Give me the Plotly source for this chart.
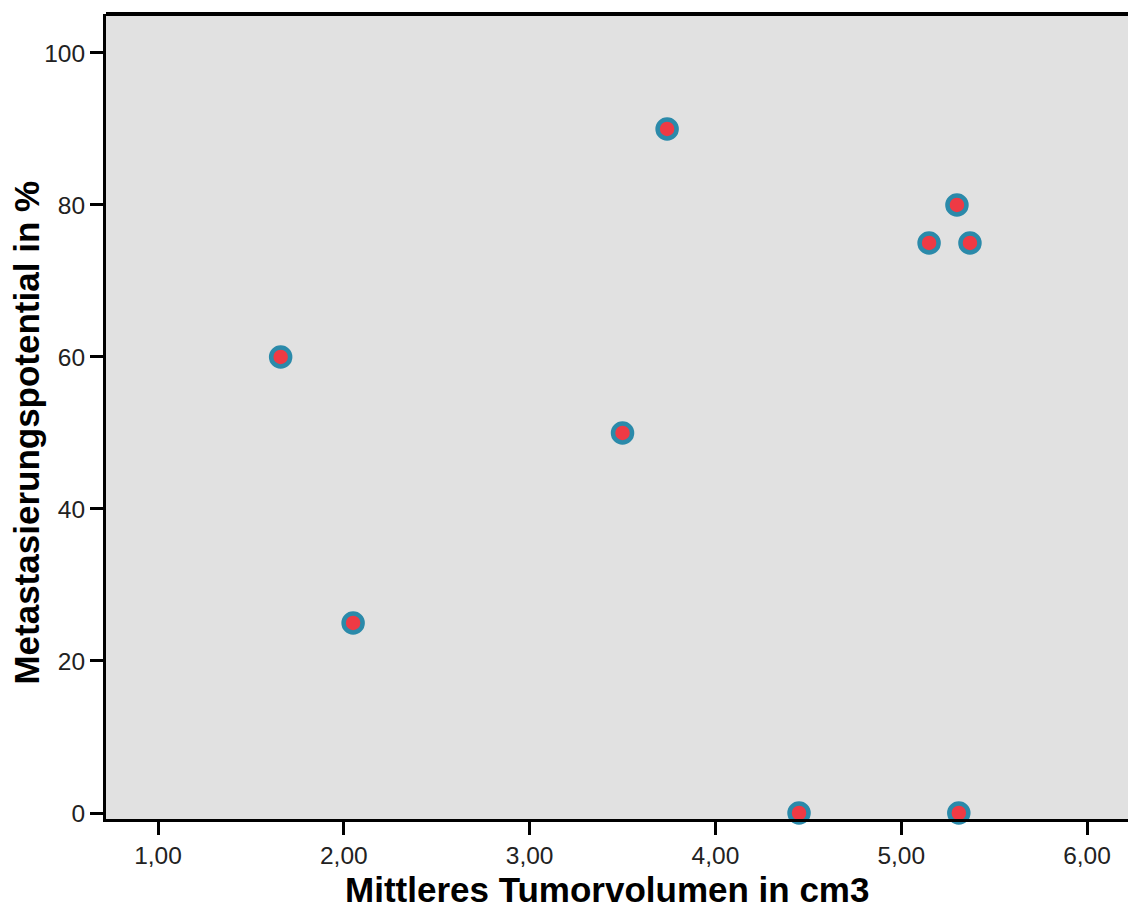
import plotly.graph_objects as go

# Mean tumour volume (cm3) and metastatic potential (%) per cell line
tumor_volume = [1.66, 2.05, 3.50, 3.74, 4.45, 5.15, 5.30, 5.37, 5.31]
metastasis_pct = [60, 25, 50, 90, 0, 75, 80, 75, 0]

x_ticks = [1, 2, 3, 4, 5, 6]
y_ticks = [0, 20, 40, 60, 80, 100]

FONT = "Liberation Sans, Arial, sans-serif"

fig = go.Figure(
    go.Scatter(
        x=tumor_volume,
        y=metastasis_pct,
        mode="markers",
        marker=dict(
            size=19,
            color="#ef3a44",
            line=dict(color="#2b8aaa", width=4.5),
        ),
        cliponaxis=False,
        hoverinfo="x+y",
    )
)

axis_common = dict(
    showgrid=False,
    zeroline=False,
    showline=True,
    linecolor="black",
    linewidth=3,
    ticks="outside",
    ticklen=13,
    tickwidth=3,
    tickcolor="black",
    tickfont=dict(family=FONT, size=24.5, color="#222222"),
)

fig.update_xaxes(
    range=[0.72, 6.2206],
    tickvals=x_ticks,
    tickformat=".2f",
    mirror=False,
    **axis_common,
)
fig.update_yaxes(
    range=[-0.79, 105.13],
    tickvals=y_ticks,
    mirror=False,
    **axis_common,
)

# Top frame line of the plotting area
fig.add_shape(
    type="line", xref="paper", yref="paper",
    x0=0, x1=1, y0=1, y1=1,
    line=dict(color="black", width=4),
)

fig.add_annotation(
    text="<b>Mittleres Tumorvolumen in cm3</b>",
    xref="paper", yref="paper", x=0.49, y=0,
    yshift=-70, xanchor="center", yanchor="middle",
    showarrow=False,
    font=dict(family=FONT, size=35, color="black"),
)
fig.add_annotation(
    text="<b>Metastasierungspotential in %</b>",
    xref="paper", yref="paper", x=0, y=0.48,
    xshift=-79, xanchor="center", yanchor="middle",
    textangle=-90,
    showarrow=False,
    font=dict(family=FONT, size=35, color="black"),
)

fig.update_layout(
    width=1128,
    height=908,
    margin=dict(l=106, r=0, t=14, b=89),
    paper_bgcolor="white",
    plot_bgcolor="#e1e1e1",
    separators=",.",
    showlegend=False,
)

fig.write_html("out.html")
